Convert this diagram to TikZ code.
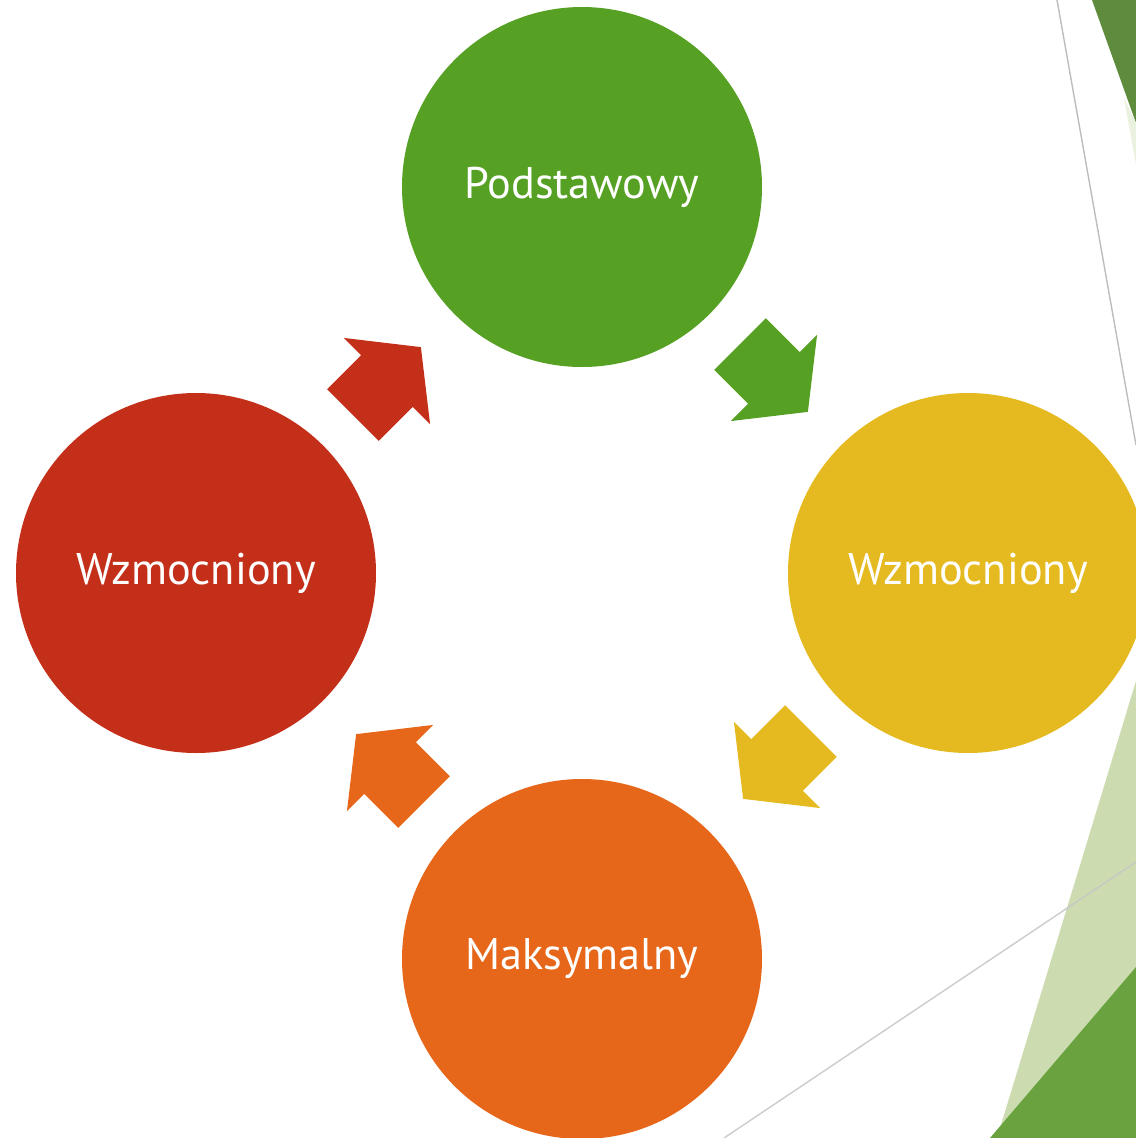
\documentclass[tikz,border=0pt]{standalone}
\usepackage{fontspec}
\setmainfont{PT Sans}
\definecolor{cgreen}{HTML}{56A024}
\definecolor{cyellow}{HTML}{E5BA20}
\definecolor{corange}{HTML}{E7671A}
\definecolor{cred}{HTML}{C42F1A}
\definecolor{dkgreen}{HTML}{5F8C3C}
\definecolor{midgreen}{HTML}{69A23E}
\definecolor{ltgreen}{HTML}{CDDCB0}
\definecolor{linegray}{HTML}{BDBDBD}
\begin{document}
\begin{tikzpicture}[x=0.025cm,y=-0.025cm,
  stage/.style={circle,minimum size=360*0.025cm,inner sep=0pt,text=white,
    font=\fontsize{31.5}{38}\selectfont},
  pics/blockarrow/.style={code={
    \fill[#1] (0,-36.5) -- (48,-36.5) -- (48,-61) -- (96,0) -- (48,61) -- (48,36.5) -- (0,36.5) -- cycle;
  }}]
\useasboundingbox (0,0) rectangle (1136,1138);
% background decorations
\fill[dkgreen] (1092,0) -- (1136,0) -- (1136,123) -- cycle;
\fill[ltgreen!40] (1124,98) -- (1136,123) -- (1136,165) -- cycle;
\draw[linegray,line width=1pt] (1057,0) -- (1136,445);
\fill[ltgreen] (1136,681) -- (997,1138) -- (1136,1138) -- cycle;
\draw[gray!45,opacity=0.9,line width=1pt] (724,1138) -- (1136,862);
\fill[midgreen] (1136,967) -- (990,1138) -- (1136,1138) -- cycle;
% circles
\node[stage,fill=cgreen] (top) at (582,187) {\raisebox{-2.5pt}{Podstawowy}};
\node[stage,fill=cyellow] (right) at (968,573) {\raisebox{-2.5pt}{Wzmocniony}};
\node[stage,fill=corange] (bottom) at (582,959) {\raisebox{-2.5pt}{Maksymalny}};
\node[stage,fill=cred] (left) at (196,573) {\raisebox{-2.5pt}{Wzmocniony}};
% arrows
\pic[rotate=-45] at (740,344) {blockarrow=cgreen};
\pic[rotate=-135] at (811,731) {blockarrow=cyellow};
\pic[rotate=135] at (424,802) {blockarrow=corange};
\pic[rotate=45] at (353,415) {blockarrow=cred};
\end{tikzpicture}
\end{document}
